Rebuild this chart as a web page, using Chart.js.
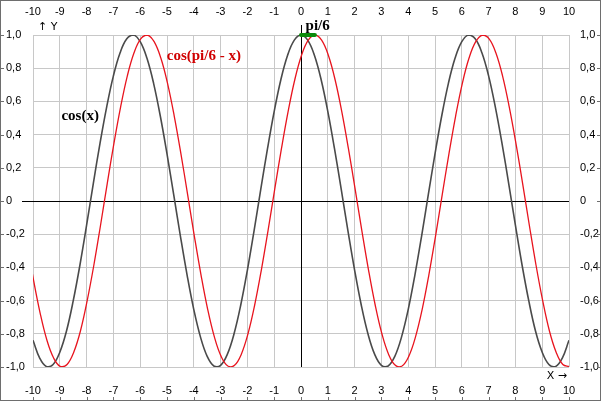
<!DOCTYPE html>
<html>
<head>
<meta charset="utf-8">
<script src="https://cdn.jsdelivr.net/npm/chart.js@4.4.1/dist/chart.umd.min.js"></script>
<style>
  html, body { margin: 0; padding: 0; background: #fff; overflow: hidden; }
  canvas { display: block; }
</style>
</head>
<body>
<canvas id="plot" width="601" height="401"></canvas>
<script>
// cos(x), read at every 0.25 on x
const xValues = [
  -10, -9.75, -9.5, -9.25, -9, -8.75, -8.5, -8.25, -8, -7.75, -7.5, -7.25, -7, -6.75, -6.5, -6.25,
  -6, -5.75, -5.5, -5.25, -5, -4.75, -4.5, -4.25, -4, -3.75, -3.5, -3.25, -3, -2.75, -2.5, -2.25,
  -2, -1.75, -1.5, -1.25, -1, -0.75, -0.5, -0.25, 0, 0.25, 0.5, 0.75, 1, 1.25, 1.5, 1.75,
  2, 2.25, 2.5, 2.75, 3, 3.25, 3.5, 3.75, 4, 4.25, 4.5, 4.75, 5, 5.25, 5.5, 5.75,
  6, 6.25, 6.5, 6.75, 7, 7.25, 7.5, 7.75, 8, 8.25, 8.5, 8.75, 9, 9.25, 9.5, 9.75, 10
];
const cosValues = [
  -0.839, -0.946, -0.997, -0.985, -0.911, -0.783, -0.602, -0.387, -0.146, 0.105, 0.347, 0.567,
  0.754, 0.893, 0.977, 1.000, 0.960, 0.861, 0.709, 0.512, 0.284, 0.038, -0.211, -0.446,
  -0.654, -0.820, -0.936, -0.994, -0.990, -0.924, -0.801, -0.628, -0.416, -0.178, 0.071, 0.315,
  0.540, 0.732, 0.878, 0.969, 1.000, 0.969, 0.878, 0.732, 0.540, 0.315, 0.071, -0.178,
  -0.416, -0.628, -0.801, -0.924, -0.990, -0.994, -0.936, -0.820, -0.654, -0.446, -0.211, 0.038,
  0.284, 0.512, 0.709, 0.861, 0.960, 1.000, 0.977, 0.893, 0.754, 0.567, 0.347, 0.105,
  -0.146, -0.387, -0.602, -0.783, -0.911, -0.985, -0.997, -0.946, -0.839
];

// cos(pi/6 - x), read every 0.25 starting from its left edge
const shiftedX = [
  -10.23, -9.98, -9.73, -9.48, -9.23, -8.98, -8.73, -8.48, -8.23, -7.98, -7.73, -7.48, -7.23, -6.98,
  -6.73, -6.48, -6.23, -5.98, -5.73, -5.48, -5.23, -4.98, -4.73, -4.48, -4.23, -3.98, -3.73, -3.48,
  -3.23, -2.98, -2.73, -2.48, -2.23, -1.98, -1.73, -1.48, -1.23, -0.98, -0.73, -0.48, -0.23, 0.02,
  0.27, 0.52, 0.77, 1.02, 1.27, 1.52, 1.77, 2.02, 2.27, 2.52, 2.77, 3.02, 3.27, 3.52,
  3.77, 4.02, 4.27, 4.52, 4.77, 5.02, 5.27, 5.52, 5.77, 6.02, 6.27, 6.52, 6.77, 7.02,
  7.27, 7.52, 7.77, 8.02, 8.27, 8.52, 8.77, 9.02, 9.27, 9.52, 9.77, 10.02
];
const shiftedValues = [
  -0.243, -0.476, -0.678,
  -0.839, -0.946, -0.997, -0.985, -0.911, -0.783, -0.602, -0.387, -0.146, 0.105, 0.347, 0.567,
  0.754, 0.893, 0.977, 1.000, 0.960, 0.861, 0.709, 0.512, 0.284, 0.038, -0.211, -0.446,
  -0.654, -0.820, -0.936, -0.994, -0.990, -0.924, -0.801, -0.628, -0.416, -0.178, 0.071, 0.315,
  0.540, 0.732, 0.878, 0.969, 1.000, 0.969, 0.878, 0.732, 0.540, 0.315, 0.071, -0.178,
  -0.416, -0.628, -0.801, -0.924, -0.990, -0.994, -0.936, -0.820, -0.654, -0.446, -0.211, 0.038,
  0.284, 0.512, 0.709, 0.861, 0.960, 1.000, 0.977, 0.893, 0.754, 0.567, 0.347, 0.105,
  -0.146, -0.387, -0.602, -0.783, -0.911, -0.985, -0.997
];

// the short green piece on top, from 0 to pi/6
const markX = [0, 0.52];
const markY = [1, 1];

const xTicks = [-10, -9, -8, -7, -6, -5, -4, -3, -2, -1, 0, 1, 2, 3, 4, 5, 6, 7, 8, 9, 10];
const yTicks = [-1, -0.8, -0.6, -0.4, -0.2, 0, 0.2, 0.4, 0.6, 0.8, 1];
const yTickLabels = ['-1,0', '-0,8', '-0,6', '-0,4', '-0,2', '0', '0,2', '0,4', '0,6', '0,8', '1,0'];

const GRID = '#c8c8c8';
const TICK_FONT = { family: "'Liberation Sans', Arial, sans-serif", size: 11 };
const NOTE_FONT = "bold 15px 'Liberation Serif', 'Times New Roman', serif";

const toPoints = (xs, ys) => xs.map((x, i) => ({ x: x, y: ys[i] }));

// axis lines through 0, outer frame, captions
const decor = {
  id: 'decor',
  beforeDatasetsDraw(chart) {
    const { ctx, chartArea: a, scales } = chart;
    const x0 = Math.round(scales.x.getPixelForValue(0)) + 0.5;
    const y0 = Math.round(scales.y.getPixelForValue(0)) + 0.5;
    ctx.save();
    ctx.strokeStyle = '#000';
    ctx.lineWidth = 1;
    ctx.beginPath();
    ctx.moveTo(x0, a.top - 10); ctx.lineTo(x0, a.bottom);
    ctx.moveTo(a.left - 11, y0); ctx.lineTo(a.right, y0);
    ctx.stroke();
    ctx.restore();
  },
  afterDraw(chart) {
    const { ctx, chartArea: a, scales, width, height } = chart;
    ctx.save();

    // frame with small edge ticks
    ctx.strokeStyle = '#6e6e6e';
    ctx.lineWidth = 1;
    ctx.strokeRect(0.5, 0.5, width - 1, height - 1);
    ctx.beginPath();
    yTicks.forEach(v => {
      const py = Math.round(scales.y.getPixelForValue(v)) + 0.5;
      ctx.moveTo(0, py); ctx.lineTo(4, py);
      ctx.moveTo(width - 4, py); ctx.lineTo(width, py);
    });
    xTicks.forEach(v => {
      const px = Math.round(scales.x.getPixelForValue(v)) + 0.5;
      ctx.moveTo(px, height - 4); ctx.lineTo(px, height);
    });
    ctx.stroke();

    // axis captions
    ctx.fillStyle = '#000';
    ctx.font = "11px 'DejaVu Sans', sans-serif";
    ctx.textBaseline = 'alphabetic';
    ctx.textAlign = 'left';
    ctx.fillText('\u2191 Y', a.left + 5, a.top - 5);
    ctx.textAlign = 'right';
    ctx.fillText('X \u2192', a.right - 2, a.bottom + 12);

    // curve notes
    const notes = [
      { text: 'cos(x)', x: -8.94, y: 0.49, color: '#000' },
      { text: 'cos(pi/6 - x)', x: -5.01, y: 0.852, color: '#d00000' },
      { text: 'pi/6', x: 0.17, y: 1.03, color: '#000' }
    ];
    ctx.font = NOTE_FONT;
    ctx.textAlign = 'left';
    notes.forEach(n => {
      ctx.fillStyle = n.color;
      ctx.fillText(n.text, scales.x.getPixelForValue(n.x), scales.y.getPixelForValue(n.y));
    });
    ctx.restore();
  }
};

const gridOpts = {
  color: c => (c.tick && c.tick.value === 0 ? '#000' : GRID),
  lineWidth: 1,
  drawTicks: false
};

new Chart(document.getElementById('plot'), {
  type: 'line',
  data: {
    datasets: [
      {
        data: toPoints(markX, markY),
        borderColor: '#0b8a0b',
        borderWidth: 4,
        borderCapStyle: 'round',
        pointRadius: 0,
        tension: 0,
        clip: false,
        order: 0
      },
      {
        data: toPoints(shiftedX, shiftedValues),
        borderColor: '#e8141e',
        borderWidth: 1.3,
        pointRadius: 0,
        tension: 0.4,
        order: 1
      },
      {
        data: toPoints(xValues, cosValues),
        borderColor: '#4a4a4a',
        borderWidth: 1.6,
        pointRadius: 0,
        tension: 0.4,
        order: 2
      }
    ]
  },
  options: {
    responsive: false,
    animation: false,
    events: [],
    layout: { padding: { left: 6, top: 0, right: 0, bottom: 0 } },
    plugins: { legend: { display: false }, tooltip: { enabled: false } },
    scales: {
      x: {
        type: 'linear', position: 'bottom', min: -10, max: 10,
        afterBuildTicks: s => { s.ticks = xTicks.map(v => ({ value: v })); },
        afterFit: s => { s.height = 34; },
        grid: gridOpts,
        border: { display: false },
        ticks: { autoSkip: false, maxRotation: 0, padding: 17, color: '#000', font: TICK_FONT,
                 callback: v => String(v) }
      },
      x2: {
        type: 'linear', position: 'top', min: -10, max: 10,
        afterBuildTicks: s => { s.ticks = xTicks.map(v => ({ value: v })); },
        afterFit: s => { s.height = 35; },
        grid: { display: false, drawTicks: false },
        border: { display: false },
        ticks: { autoSkip: false, maxRotation: 0, padding: 16, color: '#000', font: TICK_FONT,
                 callback: v => String(v) }
      },
      y: {
        type: 'linear', position: 'left', min: -1, max: 1,
        afterBuildTicks: s => { s.ticks = yTicks.map(v => ({ value: v })); },
        afterFit: s => { s.width = 27; },
        grid: gridOpts,
        border: { display: false },
        ticks: { autoSkip: false, crossAlign: 'far', padding: 6, color: '#000', font: TICK_FONT,
                 callback: (v, i) => yTickLabels[i] }
      },
      y2: {
        type: 'linear', position: 'right', min: -1, max: 1,
        afterBuildTicks: s => { s.ticks = yTicks.map(v => ({ value: v })); },
        afterFit: s => { s.width = 32; },
        grid: { display: false, drawTicks: false },
        border: { display: false },
        ticks: { autoSkip: false, padding: 11, color: '#000', font: TICK_FONT,
                 callback: (v, i) => yTickLabels[i] }
      }
    }
  },
  plugins: [decor]
});
</script>
</body>
</html>
